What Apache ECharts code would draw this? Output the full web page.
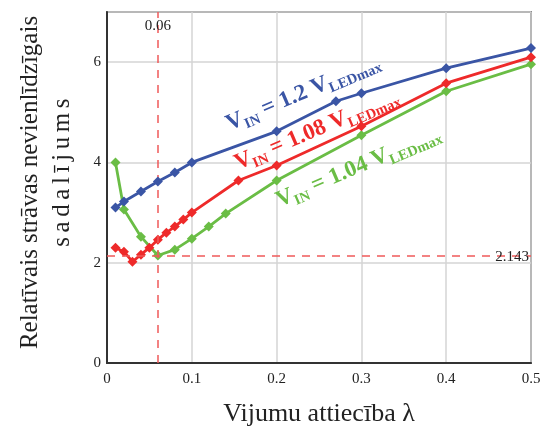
<!DOCTYPE html>
<html>
<head>
<meta charset="utf-8">
<script src="https://cdn.jsdelivr.net/npm/echarts@6/dist/echarts.min.js"></script>
<style>
  html, body { margin: 0; padding: 0; background: #fff; }
  #chart { width: 542px; height: 428px; }
</style>
</head>
<body>
<div id="chart"></div>
<script>
// Winding ratio λ vs. relative current imbalance, three input voltages
const blueX  = [0.01, 0.02, 0.04, 0.06, 0.08, 0.1, 0.2, 0.27, 0.3, 0.4, 0.5];
const blueY  = [3.1, 3.22, 3.42, 3.62, 3.8, 4.0, 4.62, 5.22, 5.38, 5.88, 6.28];
const redX   = [0.01, 0.02, 0.03, 0.04, 0.05, 0.06, 0.07, 0.08, 0.09, 0.1, 0.155, 0.2, 0.3, 0.4, 0.5];
const redY   = [2.3, 2.22, 2.02, 2.16, 2.3, 2.46, 2.6, 2.72, 2.86, 3.0, 3.64, 3.94, 4.72, 5.58, 6.1];
const greenX = [0.01, 0.02, 0.04, 0.06, 0.08, 0.1, 0.12, 0.14, 0.2, 0.3, 0.4, 0.5];
const greenY = [4.0, 3.06, 2.52, 2.143, 2.26, 2.48, 2.72, 2.98, 3.64, 4.54, 5.42, 5.96];

const xTicks = [0, 0.1, 0.2, 0.3, 0.4, 0.5];
const yTicks = [0, 2, 4, 6];

const optLambda = 0.06;     // optimum winding ratio
const minImbalance = 2.143; // minimum imbalance value

const seriesNames = ['1.2', '1.08', '1.04'];
const yTitle = ['Relatīvais strāvas nevienlīdzīgais', 'sadalījums'];
const xTitle = 'Vijumu attiecība λ';

const SERIF = '"Liberation Serif", "Times New Roman", "DejaVu Serif", serif';
const COLORS = ['#3a55a5', '#ee2a2a', '#6abd45'];

function pairs(xs, ys) { return xs.map((x, i) => [x, ys[i]]); }

function curveLabel(k) {
  return {
    formatter: '{v|V}{s|IN}{v| = ' + seriesNames[k] + ' V}{s|LEDmax}',
    rich: {
      v: { fontFamily: SERIF, fontWeight: 'bold', fontSize: 23, color: COLORS[k],
           verticalAlign: 'top', lineHeight: 26 },
      s: { fontFamily: SERIF, fontWeight: 'bold', fontSize: 14.5, color: COLORS[k],
           verticalAlign: 'top', lineHeight: 14, padding: [11, 0, 0, 0] }
    }
  };
}

function curve(k, xs, ys, labelAt, extra) {
  const lbl = curveLabel(k);
  const s = {
    name: seriesNames[k],
    type: 'line',
    data: pairs(xs, ys),
    symbol: 'diamond',
    symbolSize: 10,
    lineStyle: { color: COLORS[k], width: 2.8 },
    itemStyle: { color: COLORS[k] },
    z: 5 - k,
    markPoint: {
      symbol: 'circle',
      symbolSize: 0,
      silent: true,
      data: [{
        coord: labelAt,
        label: {
          show: true, position: 'inside', rotate: 23,
          formatter: lbl.formatter, rich: lbl.rich
        }
      }]
    }
  };
  return Object.assign(s, extra || {});
}

// second title line is set with wider letter spacing; its first letter
// carries extra leading room so the line sits a little higher
const line2 = Array.from(yTitle[1]);
const yTitleText = '{a|' + yTitle[0] + '}\n' +
  line2.map((c, i) => (i === 0 ? '{c|' : '{b|') + c + '}').join('');

const chart = echarts.init(document.getElementById('chart'), null, { renderer: 'canvas' });

chart.setOption({
  animation: false,
  backgroundColor: '#fff',
  grid: {
    left: 107, right: 11, top: 12, bottom: 65,
    outerBoundsMode: 'none',
    show: true, borderColor: '#333', borderWidth: 1.5
  },
  xAxis: {
    type: 'value', min: 0, max: 0.5, interval: 0.1,
    name: xTitle,
    nameLocation: 'middle', nameGap: 38,
    nameTextStyle: { fontFamily: SERIF, fontSize: 26, color: '#222' },
    axisLine: { show: true, lineStyle: { color: '#333', width: 2 } },
    axisTick: { show: false },
    axisLabel: {
      fontFamily: SERIF, fontSize: 15, color: '#222', margin: 9,
      formatter: v => (xTicks.indexOf(+v.toFixed(2)) >= 0 ? String(+v.toFixed(2)) : '')
    },
    splitLine: { show: true, lineStyle: { color: '#d4d4d4', width: 1.5 } }
  },
  yAxis: {
    type: 'value', min: 0, max: 7, interval: 2,
    name: yTitleText,
    nameLocation: 'middle', nameGap: 29, nameRotate: 90,
    nameTextStyle: {
      fontFamily: SERIF, fontSize: 25, color: '#222', lineHeight: 32,
      rich: {
        a: { fontFamily: SERIF, fontSize: 25, color: '#222', lineHeight: 32, padding: [0, 0, 0, 10] },
        b: { fontFamily: SERIF, fontSize: 25, color: '#222', lineHeight: 32, padding: [0, 2.3, 0, 2.3] },
        c: { fontFamily: SERIF, fontSize: 25, color: '#222', lineHeight: 32, padding: [0, 2.3, 0, 32] }
      }
    },
    axisLine: { show: true, lineStyle: { color: '#333', width: 2 } },
    axisTick: { show: false },
    axisLabel: {
      fontFamily: SERIF, fontSize: 15, color: '#222', margin: 6,
      formatter: v => (yTicks.indexOf(v) >= 0 ? String(v) : '')
    },
    splitLine: { show: true, lineStyle: { color: '#d4d4d4', width: 1.5 } }
  },
  series: [
    curve(0, blueX, blueY, [0.232, 5.36]),
    curve(1, redX, redY, [0.248, 4.62]),
    curve(2, greenX, greenY, [0.297, 3.88], {
      markLine: {
        silent: true,
        symbol: ['none', 'none'],
        label: { show: false },
        emphasis: { disabled: true },
        lineStyle: { color: '#f05a5a', type: [8, 7], width: 1.5, opacity: 1 },
        data: [{ xAxis: optLambda }, { yAxis: minImbalance }]
      }
    }),
    {
      // value annotations for the dashed reference lines
      type: 'scatter',
      data: [],
      silent: true,
      markPoint: {
        symbol: 'circle', symbolSize: 0, silent: true,
        label: { fontFamily: SERIF, fontSize: 15, color: '#222' },
        data: [
          { coord: [optLambda, 6.72],
            label: { show: true, position: 'inside', formatter: String(optLambda) } },
          { coord: [0.4975, minImbalance],
            label: { show: true, position: 'left', distance: 0, offset: [0, 2],
                     formatter: String(minImbalance) } }
        ]
      }
    }
  ]
});
</script>
</body>
</html>
